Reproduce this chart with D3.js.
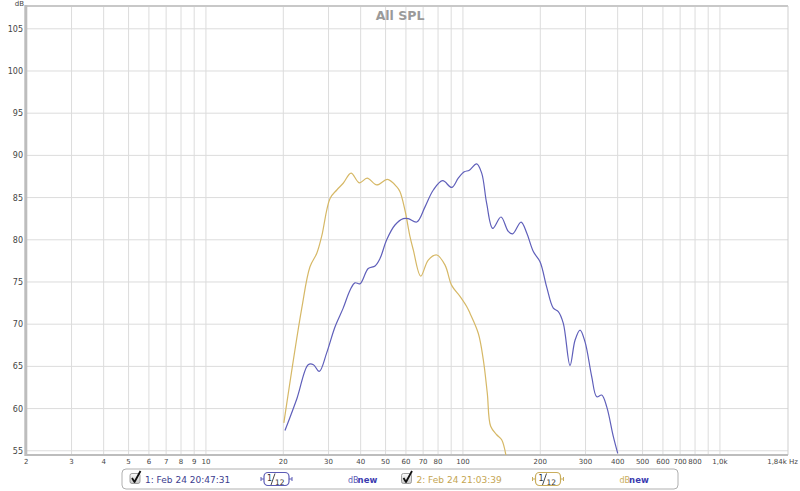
<!DOCTYPE html>
<html><head><meta charset="utf-8">
<script src="https://cdn.jsdelivr.net/npm/d3@7"></script>
<style>body{margin:0;background:#fff;} svg{display:block;}</style>
</head><body><svg id="c" width="800" height="491"></svg>
<script>
// ---- data ----
const blueFreq=[20.3,22.6,25.0,26.2,27.6,29.5,31.8,34.2,36.4,38.0,39.8,42.8,45.5,47.6,50.5,54.4,58.6,61.3,66.1,71.2,76.7,83.4,90.4,95.9,101.2,105.9,113.1,118.3,123.7,130.6,140.6,150.1,156.2,168.3,177.1,187.9,199.5,211.8,224.7,235.0,245.8,261.0,273.0,285.5,298.6,317.0,331.6,346.8,362.7,384.6,400.2];
const blueDb=[57.4,61.2,65.2,65.2,64.4,66.6,69.7,71.9,74.05,74.9,74.8,76.6,76.9,77.8,80.0,81.75,82.5,82.5,82.1,83.9,85.9,87.0,86.2,87.3,88.05,88.25,89.0,87.9,84.3,81.35,82.7,81.0,80.7,82.1,80.8,78.6,77.4,74.4,71.9,71.5,70.1,65.1,68.1,69.3,67.9,63.8,61.4,61.6,60.2,56.7,54.7];
const goldFreq=[20.1,23.6,25.4,27.0,28.2,30.4,32.3,34.2,36.7,39.5,42.4,46.2,50.8,55.2,56.9,59.5,62.2,64.1,68.5,73.3,79.1,85.2,90.4,97.4,103.4,106.5,114.8,120.0,124.4,128.2,135.3,141.5,147.1];
const goldDb=[58.3,71.9,76.8,78.4,80.4,84.9,85.9,86.7,87.9,86.75,87.3,86.5,87.15,86.3,85.7,83.5,80.4,78.8,75.7,77.6,78.2,77.0,74.6,73.3,72.1,71.3,68.9,65.8,61.8,57.9,56.9,56.3,54.4];
const xGrid=[2,3,4,5,6,7,8,9,10,20,30,40,50,60,70,80,90,100,200,300,400,500,600,700,800,900,1000];
const xTickValues=[2,3,4,5,6,7,8,9,10,20,30,40,50,60,70,80,100,200,300,400,500,600,700,800,1000,1840];
const xTickLabels=["2","3","4","5","6","7","8","9","10","20","30","40","50","60","70","80","100","200","300","400","500","600","700","800","1,0k","1,84k Hz"];
const yTickValues=[55,60,65,70,75,80,85,90,95,100,105];
const seriesNames=["1: Feb 24 20:47:31","2: Feb 24 21:03:39"];
const seriesColors=["#5f5fba","#d6b866"];
const legendTextColors=["#3c3c8e","#c4a552"];

// ---- layout ----
const svg=d3.select("#c");
const L=26.3,R=788,T=6,B=455;
const x=d3.scaleLog().domain([2,1840]).range([L,R]);
const y=d3.scaleLinear().domain([54.5,107.7]).range([B,T]);
const font="DejaVu Sans, Verdana, sans-serif";

svg.append("defs").append("clipPath").attr("id","clip").append("rect")
  .attr("x",L).attr("y",T).attr("width",R-L).attr("height",B-T);

// grid
svg.append("g").selectAll("line").data(xGrid).join("line")
  .attr("x1",d=>x(d)).attr("x2",d=>x(d)).attr("y1",T).attr("y2",B)
  .attr("stroke","#dcdcdc").attr("stroke-width",1);
svg.append("g").selectAll("line").data(yTickValues).join("line")
  .attr("x1",L).attr("x2",R).attr("y1",d=>y(d)).attr("y2",d=>y(d))
  .attr("stroke","#dcdcdc").attr("stroke-width",1);

// frame
svg.append("line").attr("x1",L).attr("x2",R).attr("y1",T).attr("y2",T).attr("stroke","#c8c8c8").attr("stroke-width",2);
svg.append("line").attr("x1",R).attr("x2",R).attr("y1",T).attr("y2",B).attr("stroke","#cfcfcf").attr("stroke-width",1);
svg.append("line").attr("x1",L-0.5).attr("x2",R).attr("y1",B).attr("y2",B).attr("stroke","#bdbdbd").attr("stroke-width",2);
svg.append("line").attr("x1",L-0.5).attr("x2",L-0.5).attr("y1",T-1).attr("y2",B+1).attr("stroke","#bdbdbd").attr("stroke-width",3);

// y labels
svg.append("g").selectAll("text").data(yTickValues).join("text")
  .attr("x",23).attr("y",d=>y(d)+3).attr("text-anchor","end")
  .attr("font-family",font).attr("font-size",8).attr("fill","#444").text(d=>d);
svg.append("text").attr("x",24).attr("y",6).attr("text-anchor","end")
  .attr("font-family",font).attr("font-size",7).attr("fill","#444").text("dB");

// x labels
svg.append("g").selectAll("text").data(xTickValues).join("text")
  .attr("x",(d,i)=> i===xTickValues.length-1 ? 798 : x(d))
  .attr("y",464)
  .attr("text-anchor",(d,i)=> i===xTickValues.length-1 ? "end":"middle")
  .attr("font-family",font).attr("font-size",7).attr("fill","#444")
  .text((d,i)=>xTickLabels[i]);

// title
svg.append("text").attr("x",400).attr("y",20).attr("text-anchor","middle")
  .attr("font-family",font).attr("font-weight","bold").attr("font-size",12.5)
  .attr("fill","#9a9a9a").text("All SPL");

// curves
const line=d3.line().x(d=>x(d[0])).y(d=>y(d[1])).curve(d3.curveCatmullRom.alpha(0.5));
const g=svg.append("g").attr("clip-path","url(#clip)");
g.append("path").datum(goldFreq.map((f,i)=>[f,goldDb[i]])).attr("d",line)
  .attr("fill","none").attr("stroke",seriesColors[1]).attr("stroke-width",1.2);
g.append("path").datum(blueFreq.map((f,i)=>[f,blueDb[i]])).attr("d",line)
  .attr("fill","none").attr("stroke",seriesColors[0]).attr("stroke-width",1.2);

// legend
const defs=svg.select("defs");
const grad=defs.append("linearGradient").attr("id","cb").attr("x1",0).attr("y1",0).attr("x2",0).attr("y2",1);
grad.append("stop").attr("offset","0%").attr("stop-color","#fdfdfd");
grad.append("stop").attr("offset","100%").attr("stop-color","#c9c9c9");

svg.append("rect").attr("x",122).attr("y",469).attr("width",556).attr("height",20).attr("rx",4)
  .attr("fill","#fff").attr("stroke","#b0b0b0").attr("stroke-width",1);

const legX=[130,401.5];
seriesNames.forEach((name,i)=>{
  const lx=legX[i];
  const lg=svg.append("g");
  lg.append("rect").attr("x",lx).attr("y",473.5).attr("width",10).attr("height",10).attr("rx",2)
    .attr("fill","url(#cb)").attr("stroke","#8a8a8a").attr("stroke-width",0.8);
  lg.append("path").attr("d",`M${lx+2},${478} L${lx+4.5},${482} L${lx+10.5},${471}`)
    .attr("fill","none").attr("stroke","#111").attr("stroke-width",1.8).attr("stroke-linejoin","round");
  lg.append("text").attr("x",lx+15).attr("y",482.5).attr("font-family",font).attr("font-size",9)
    .attr("fill",legendTextColors[i]).text(name);
  // smoothing icon
  const sx=lx+130;
  const c=i===0?"#5b5bb5":"#c9ad5c";
  lg.append("line").attr("x1",sx+1).attr("x2",sx+32).attr("y1",479).attr("y2",479).attr("stroke",c).attr("stroke-width",1);
  lg.append("line").attr("x1",sx+1).attr("x2",sx+1).attr("y1",477).attr("y2",481).attr("stroke",c).attr("stroke-width",1);
  lg.append("line").attr("x1",sx+32).attr("x2",sx+32).attr("y1",477).attr("y2",481).attr("stroke",c).attr("stroke-width",1);
  lg.append("rect").attr("x",sx+4).attr("y",472.5).attr("width",25).attr("height",13).attr("rx",4)
    .attr("fill","#fff").attr("stroke",c).attr("stroke-width",1.2);
  lg.append("text").attr("x",sx+7).attr("y",480.5).attr("font-family",font).attr("font-size",8).attr("fill","#333").text("1");
  lg.append("line").attr("x1",sx+11).attr("x2",sx+15).attr("y1",485).attr("y2",473.5).attr("stroke","#333").attr("stroke-width",0.9);
  lg.append("text").attr("x",sx+15).attr("y",484.5).attr("font-family",font).attr("font-size",7.5).attr("fill","#333").text("12");
  // dBnew
  const dx=lx+218;
  const t=lg.append("text").attr("x",dx).attr("y",482.5).attr("font-family",font);
  t.append("tspan").attr("font-size",8).attr("fill",i===0?"#5b5bb5":"#c9ad5c").text("dB");
  t.append("tspan").attr("font-size",8.5).attr("font-weight","bold").attr("fill","#3b3bb0").attr("dx",-1).text("new");
});
</script></body></html>
